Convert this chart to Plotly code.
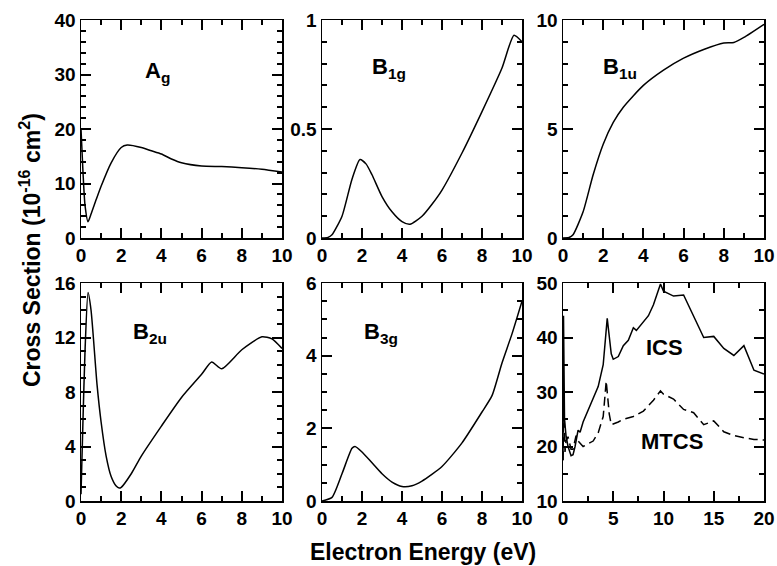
import plotly.graph_objects as go

# ---- data ----
ag_x = [0, 0.1, 0.2, 0.35, 0.5, 0.75, 1.0, 1.5, 2.0, 2.3, 3.0, 3.5, 4.0, 4.5, 5.0, 6.0, 7.0, 8.0, 9.0, 10.0]
ag_y = [20, 12, 6, 3.0, 4.4, 7.0, 9.5, 13.8, 16.6, 17.05, 16.6, 16.0, 15.4, 14.5, 13.8, 13.2, 13.1, 12.9, 12.6, 12.1]

b1g_x = [0, 0.3, 0.5, 1.0, 1.5, 1.9, 2.2, 2.5, 3.0, 3.5, 4.0, 4.4, 5.0, 5.5, 6.0, 7.0, 8.0, 9.0, 9.6, 10.0]
b1g_y = [0, 0.003, 0.015, 0.1, 0.27, 0.36, 0.34, 0.29, 0.19, 0.12, 0.075, 0.063, 0.1, 0.155, 0.22, 0.39, 0.58, 0.78, 0.93, 0.9]

b1u_x = [0, 0.3, 0.5, 1.0, 1.5, 2.0, 2.5, 3.0, 4.0, 5.0, 6.0, 7.0, 8.0, 8.5, 9.0, 10.0]
b1u_y = [0, 0.02, 0.15, 1.2, 2.9, 4.3, 5.3, 6.0, 7.0, 7.7, 8.25, 8.65, 8.95, 8.97, 9.2, 9.8]

b2u_x = [0, 0.1, 0.2, 0.35, 0.5, 0.8, 1.0, 1.25, 1.5, 1.75, 1.9, 2.0, 2.5, 3.0, 4.0, 5.0, 6.0, 6.5, 7.0, 8.0, 9.0, 9.5, 10.0]
b2u_y = [0.5, 6, 11, 15.3, 14, 8.5, 5.8, 3.3, 1.8, 1.1, 0.95, 1.0, 2.0, 3.3, 5.5, 7.6, 9.3, 10.2, 9.7, 11.1, 12.05, 11.9, 11.2]

b3g_x = [0, 0.5, 1.0, 1.5, 1.65, 2.0, 2.5, 3.0, 3.5, 4.0, 4.5, 5.0, 6.0, 7.0, 8.0, 8.5, 9.0, 9.5, 10.0]
b3g_y = [0, 0.1, 0.75, 1.45, 1.5, 1.35, 1.05, 0.75, 0.52, 0.4, 0.42, 0.55, 0.95, 1.6, 2.45, 2.9, 3.8, 4.6, 5.5]

ics_x = [0, 0.05, 0.15, 0.3, 0.5, 0.8, 1.0, 1.2, 1.5, 1.7, 2.0, 3.0, 3.5, 4.0, 4.4, 4.8, 5.0, 5.5, 6.0, 6.5, 7.0, 7.3, 8.0, 8.5, 9.0, 9.7, 10.0, 11.0, 12.0, 13.0, 14.0, 15.0, 16.0, 17.0, 18.0, 19.0, 20.0]
ics_y = [17.5, 44, 25, 22, 20, 18.3, 18.5, 20, 23, 22.6, 24.5, 28.7, 31, 35, 43.5, 37, 36, 36.5, 38.5, 39.5, 41.8, 41.3, 43, 44, 46, 49.8, 48.5, 47.6, 47.8, 44, 40, 40.2, 38, 36.7, 38.5, 34, 33.3]

mtcs_x = [0, 0.08, 0.2, 0.3, 0.5, 0.8, 1.0, 1.3, 1.5, 2.0, 3.0, 3.5, 4.0, 4.3, 4.6, 4.8, 5.5, 6.0, 7.0, 8.0, 9.0, 9.7, 10.0, 11.0, 12.0, 13.0, 14.0, 14.5, 15.0, 16.0, 17.0, 18.0, 19.0, 20.0]
mtcs_y = [17.5, 29, 19, 21, 21.8, 19.5, 19.5, 22, 21, 20, 21, 22.5, 25.5, 32, 26, 24, 24.5, 25.0, 25.5, 26.5, 28.5, 30.2, 29.6, 28.7, 26.8, 26.2, 24, 24.3, 24.7, 22.7, 22, 21.6, 21.3, 21.2]

panel_labels = ["A<sub>g</sub>", "B<sub>1g</sub>", "B<sub>1u</sub>", "B<sub>2u</sub>", "B<sub>3g</sub>"]
x_title = "Electron Energy (eV)"
y_title = "Cross Section (10<sup>-16</sup> cm<sup>2</sup>)"

# ---- layout geometry ----
W, H = 777, 566
cols_px = [(81, 282), (322, 522), (563, 764)]
rows_px = [(20, 238), (283, 501)]

def xd(c):
    a, b = cols_px[c]
    return [a / W, b / W]

def yd(r):
    a, b = rows_px[r]
    return [(H - b) / H, (H - a) / H]

FONT = "Liberation Sans, Arial, Helvetica, sans-serif"
tickfont = dict(family=FONT, size=19, color="black", weight="bold")

fig = go.Figure()

# (x, y, row, col, x range, x major, x minor, y range, y major, y minor)
panels = [
    (ag_x, ag_y, 0, 0, [0, 10], 2, 1, [0, 40], 10, 2),
    (b1g_x, b1g_y, 0, 1, [0, 10], 2, 1, [0, 1], 0.5, 0.1),
    (b1u_x, b1u_y, 0, 2, [0, 10], 2, 1, [0, 10], 5, 1),
    (b2u_x, b2u_y, 1, 0, [0, 10], 2, 1, [0, 16], 4, 1),
    (b3g_x, b3g_y, 1, 1, [0, 10], 2, 1, [0, 6], 2, 0.5),
    (ics_x, ics_y, 1, 2, [0, 20], 5, 2.5, [10, 50], 10, 5),
]

layout_axes = {}
for i, (xs, ys, r, c, xr, xdt, xmn, yr, ydt, ymn) in enumerate(panels):
    n = i + 1
    xa = "x" if n == 1 else f"x{n}"
    ya = "y" if n == 1 else f"y{n}"
    fig.add_trace(go.Scatter(x=xs, y=ys, mode="lines", xaxis=xa, yaxis=ya,
                             line=dict(color="black", width=1.5,
                                       shape="linear" if n == 6 else "spline", smoothing=0.6),
                             showlegend=False, hoverinfo="skip"))
    common = dict(showline=True, linecolor="black", linewidth=1.5, mirror="allticks",
                  ticks="inside", ticklen=10, tickwidth=2, tickcolor="black",
                  showgrid=False, zeroline=False, tickfont=tickfont, automargin=False)
    layout_axes["xaxis" if n == 1 else f"xaxis{n}"] = dict(
        domain=xd(c), range=xr, anchor=ya, dtick=xdt, tick0=0,
        minor=dict(dtick=xmn, tick0=0, ticks="inside", ticklen=5,
                   tickwidth=2, tickcolor="black", showgrid=False),
        **common)
    layout_axes["yaxis" if n == 1 else f"yaxis{n}"] = dict(
        domain=yd(r), range=yr, anchor=xa, dtick=ydt, tick0=0,
        minor=dict(dtick=ymn, tick0=0, ticks="inside", ticklen=5,
                   tickwidth=2, tickcolor="black", showgrid=False),
        **common)

fig.add_trace(go.Scatter(x=mtcs_x, y=mtcs_y, mode="lines", xaxis="x6", yaxis="y6",
                         line=dict(color="black", width=1.5, dash="9px,5px"),
                         showlegend=False, hoverinfo="skip"))

fig.update_layout(template="none", width=W, height=H, autosize=False,
                  margin=dict(l=0, r=0, t=0, b=0, pad=0),
                  paper_bgcolor="white", plot_bgcolor="white",
                  **layout_axes)

lblfont = dict(family=FONT, size=22, color="black", weight="bold")
label_pos = [(157, 72), (389, 68), (620, 68), (150, 333), (381, 333)]
annots = []
for txt, (px, py) in zip(panel_labels, label_pos):
    annots.append(dict(text=txt, x=px / W, y=(H - py) / H, xref="paper", yref="paper",
                       showarrow=False, font=lblfont, xanchor="center", yanchor="middle"))
annots.append(dict(text="ICS", x=664 / W, y=(H - 348) / H, xref="paper", yref="paper",
                   showarrow=False, font=lblfont, xanchor="center", yanchor="middle"))
annots.append(dict(text="MTCS", x=672 / W, y=(H - 441) / H, xref="paper", yref="paper",
                   showarrow=False, font=lblfont, xanchor="center", yanchor="middle"))
titlefont = dict(family=FONT, size=23, color="black", weight="bold")
annots.append(dict(text=x_title, x=423 / W, y=(H - 552) / H, xref="paper", yref="paper",
                   showarrow=False, font=titlefont, xanchor="center", yanchor="middle"))
annots.append(dict(text=y_title, x=30 / W, y=(H - 250) / H, xref="paper", yref="paper",
                   showarrow=False, font=titlefont, xanchor="center", yanchor="middle",
                   textangle=-90))
fig.update_layout(annotations=annots)

fig.write_html("out.html", config={"displayModeBar": False, "staticPlot": True},
               post_script="document.body.style.margin='0px';document.body.style.padding='0px';")
